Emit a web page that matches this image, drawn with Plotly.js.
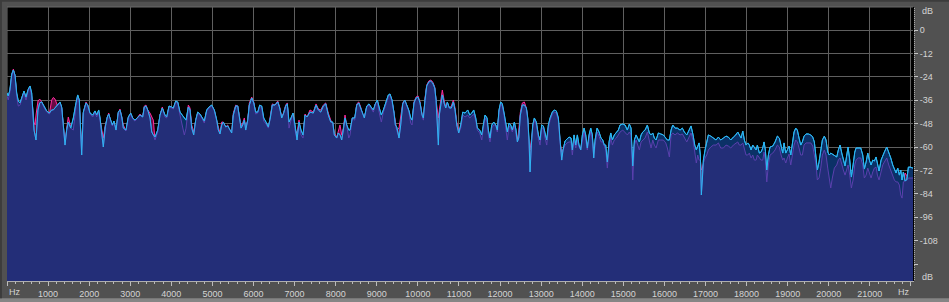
<!DOCTYPE html>
<html>
<head>
<meta charset="utf-8">
<script src="https://cdn.plot.ly/plotly-3.0.1.min.js"></script>
<style>
html,body{margin:0;padding:0;background:#515151;overflow:hidden;}
#chart{width:949px;height:302px;}
</style>
</head>
<body>
<div id="chart"></div>
<script>
// Frequency (Hz) of each sampled vertex of the spectrum
const freqHz = [0,30,70,115,155,195,236,275,316,358,414,462,518,560,601,657,682,706,754,796,845,884,966,1030,1088,1127,1168,1224,1290,1331,1370,1412,1453,1492,1550,1614,1679,1721,1760,1794,1818,1857,1923,1964,2020,2086,2142,2183,2232,2264,2305,2344,2393,2441,2475,2507,2563,2604,2653,2709,2750,2792,2831,2896,2952,3011,3059,3115,3171,3237,3303,3342,3383,3425,3481,3522,3561,3602,3668,3724,3780,3846,3887,3943,4009,4048,4106,4155,4211,4267,4316,4357,4413,4454,4496,4544,4593,4642,4698,4754,4802,4861,4917,4982,5046,5104,5143,5184,5226,5265,5323,5372,5428,5469,5508,5567,5615,5654,5696,5737,5776,5810,5859,5898,5956,6005,6053,6102,6151,6199,6248,6304,6360,6409,6457,6523,6589,6637,6686,6735,6783,6822,6864,6912,6961,7010,7059,7107,7156,7205,7253,7302,7375,7455,7521,7577,7635,7699,7757,7820,7879,7927,7966,8025,8064,8105,8146,8185,8227,8268,8317,8349,8405,8463,8512,8560,8609,8658,8697,8755,8811,8860,8916,8964,9013,9062,9110,9159,9225,9281,9322,9371,9420,9451,9485,9541,9582,9631,9680,9729,9777,9826,9858,9906,9955,10004,10052,10101,10133,10174,10215,10264,10313,10361,10410,10442,10473,10498,10522,10563,10595,10637,10678,10717,10766,10814,10863,10904,10946,10994,11043,11092,11148,11213,11262,11311,11359,11408,11447,11505,11554,11593,11635,11683,11715,11756,11797,11846,11895,11934,11975,12016,12055,12097,12138,12177,12219,12260,12299,12348,12389,12421,12455,12494,12542,12591,12640,12674,12705,12730,12761,12795,12834,12883,12932,12973,13014,13053,13095,13136,13175,13217,13272,13321,13370,13419,13460,13501,13533,13582,13630,13679,13728,13759,13801,13842,13881,13922,13964,14003,14044,14085,14124,14166,14207,14246,14280,14312,14361,14409,14458,14499,14538,14572,14611,14653,14694,14733,14781,14830,14879,14920,14986,15042,15098,15147,15188,15230,15269,15310,15351,15390,15432,15473,15529,15585,15633,15675,15716,15755,15797,15853,15911,15974,16033,16072,16121,16162,16203,16259,16315,16381,16437,16485,16544,16600,16648,16697,16738,16777,16811,16843,16875,16899,16923,16948,16989,17030,17069,17128,17191,17257,17313,17371,17435,17500,17556,17615,17678,17737,17785,17824,17866,17907,17946,17987,18028,18067,18109,18150,18189,18231,18262,18311,18352,18393,18425,18457,18491,18530,18571,18637,18693,18749,18797,18839,18880,18912,18953,18992,19034,19075,19114,19155,19196,19235,19277,19318,19357,19399,19447,19503,19562,19610,19649,19691,19722,19763,19805,19844,19892,19933,19975,20014,20048,20087,20136,20194,20233,20275,20316,20355,20396,20438,20470,20511,20550,20592,20633,20665,20720,20779,20827,20866,20908,20949,20988,21030,21071,21110,21151,21183,21224,21273,21314,21353,21411,21460,21509,21557,21596,21637,21679,21718,21752,21784,21815,21857,21898,21937,21979,22020,22050];

// Left channel level (dB) - cyan trace
const leftDb = [-32.3,-33.8,-30.8,-22.6,-20.5,-23.1,-32.3,-36.4,-37.4,-34.4,-31.3,-34.4,-30.3,-28.7,-32.3,-51.3,-54.9,-56.4,-41.0,-37.4,-36.9,-38.5,-41.5,-42.6,-41.0,-41.0,-40.0,-39.0,-36.9,-39.5,-49.7,-59.0,-51.3,-47.2,-50.3,-45.1,-37.4,-33.3,-35.9,-56.4,-64.1,-42.1,-37.4,-38.5,-42.6,-43.6,-41.5,-43.6,-41.0,-45.1,-52.3,-60.0,-49.7,-44.6,-43.1,-45.1,-48.7,-46.7,-51.3,-42.1,-41.0,-44.6,-50.3,-51.3,-44.6,-42.6,-45.1,-46.2,-45.1,-43.6,-44.6,-39.5,-39.0,-41.0,-45.1,-52.3,-53.8,-54.9,-51.3,-43.6,-40.0,-43.6,-44.6,-39.0,-39.5,-40.0,-36.4,-36.9,-42.1,-43.6,-45.1,-46.2,-39.5,-41.0,-50.3,-53.8,-46.2,-42.1,-43.1,-45.1,-46.7,-41.0,-39.5,-38.5,-41.0,-46.2,-51.3,-53.3,-48.7,-47.2,-49.7,-49.2,-51.3,-52.8,-43.6,-39.0,-39.0,-45.1,-50.3,-48.7,-46.2,-51.3,-46.2,-38.5,-34.9,-37.4,-42.1,-42.1,-38.5,-39.0,-45.1,-47.2,-49.7,-45.1,-38.5,-38.5,-36.9,-40.0,-45.1,-42.6,-39.0,-37.9,-47.2,-45.1,-42.6,-48.7,-56.4,-47.2,-51.3,-53.8,-43.6,-44.6,-42.1,-42.6,-38.5,-41.0,-42.1,-39.0,-37.9,-43.6,-47.2,-47.2,-53.8,-55.4,-52.8,-53.8,-56.4,-51.3,-45.1,-48.7,-51.3,-51.3,-45.1,-45.1,-38.5,-37.4,-40.0,-43.6,-45.1,-39.0,-37.9,-39.5,-41.0,-37.9,-35.9,-40.0,-43.6,-41.0,-36.9,-33.3,-32.8,-35.9,-42.6,-48.7,-49.7,-55.4,-48.7,-37.9,-35.9,-38.5,-41.0,-45.1,-46.2,-37.4,-34.9,-34.4,-37.4,-43.6,-45.1,-35.9,-28.7,-26.7,-26.2,-27.2,-29.7,-35.9,-46.2,-59.0,-43.6,-35.9,-33.3,-37.4,-40.0,-36.9,-40.0,-40.0,-36.9,-41.0,-48.7,-52.8,-48.7,-42.1,-42.6,-41.0,-43.6,-42.6,-41.0,-45.1,-50.3,-51.3,-53.8,-48.7,-43.6,-45.1,-51.3,-55.4,-48.7,-47.2,-48.7,-51.3,-41.0,-36.9,-37.9,-42.6,-48.7,-52.3,-47.7,-48.7,-51.3,-47.2,-51.3,-57.4,-55.4,-43.6,-38.5,-38.5,-40.0,-45.1,-56.4,-72.8,-59.0,-48.7,-45.1,-47.2,-53.8,-56.4,-48.7,-49.2,-52.8,-56.4,-48.7,-45.1,-42.1,-41.0,-41.5,-45.1,-56.4,-66.7,-61.5,-56.9,-55.9,-54.9,-55.4,-61.5,-53.8,-59.0,-53.8,-59.0,-61.5,-53.8,-50.3,-53.8,-60.5,-53.8,-50.3,-53.8,-65.6,-56.4,-50.3,-52.3,-55.4,-56.4,-59.0,-59.0,-67.7,-57.4,-52.8,-56.4,-53.8,-52.3,-51.3,-48.7,-48.2,-48.7,-51.3,-48.2,-50.3,-69.7,-56.4,-53.8,-55.4,-57.4,-53.8,-52.3,-51.3,-48.7,-52.8,-53.8,-52.8,-55.4,-56.4,-52.8,-53.3,-53.8,-55.4,-56.4,-56.4,-51.3,-48.7,-50.3,-50.3,-51.3,-50.3,-52.3,-53.8,-51.3,-49.2,-53.8,-59.0,-61.5,-59.0,-57.9,-64.1,-84.6,-76.9,-66.7,-61.5,-56.4,-53.8,-54.4,-55.4,-56.4,-54.9,-56.4,-55.4,-54.4,-54.9,-56.4,-54.9,-53.8,-52.3,-53.8,-55.4,-51.8,-56.4,-59.0,-57.9,-59.0,-61.5,-59.0,-60.5,-61.5,-59.0,-63.1,-62.6,-60.5,-57.4,-61.5,-71.8,-64.1,-60.0,-59.5,-57.4,-54.4,-55.4,-59.5,-63.1,-57.9,-63.1,-61.5,-59.5,-64.1,-59.0,-52.3,-50.3,-51.3,-55.4,-59.0,-57.4,-54.4,-53.3,-53.3,-53.8,-54.9,-57.4,-64.1,-71.8,-67.7,-61.5,-56.4,-54.4,-56.4,-62.6,-64.1,-63.1,-63.6,-64.1,-65.1,-61.5,-59.0,-63.1,-66.7,-69.7,-64.1,-60.0,-66.7,-75.4,-69.2,-62.6,-60.5,-60.5,-60.5,-64.1,-71.3,-67.7,-63.1,-66.7,-69.2,-66.7,-67.2,-65.1,-69.2,-72.3,-66.7,-64.1,-62.6,-60.0,-62.6,-65.6,-69.2,-70.8,-73.3,-70.8,-74.4,-71.8,-76.9,-72.8,-77.4,-76.9,-70.3,-70.3,-70.8,-70.8];

// Right channel level (dB) - magenta / purple trace
const rightDb = [-33.8,-35.9,-31.8,-23.6,-20.0,-23.6,-33.8,-39.0,-38.5,-35.4,-31.8,-35.9,-30.8,-29.7,-34.4,-47.2,-48.7,-43.6,-36.4,-35.4,-36.9,-39.0,-42.1,-43.1,-35.9,-34.6,-35.4,-38.5,-37.4,-40.0,-49.2,-57.9,-50.3,-44.6,-49.7,-51.3,-39.0,-34.4,-37.4,-53.8,-56.4,-42.6,-36.9,-38.5,-43.1,-44.6,-42.1,-44.6,-42.1,-46.2,-50.3,-55.4,-48.7,-44.1,-42.6,-45.6,-49.2,-47.2,-51.3,-42.6,-40.5,-44.6,-48.7,-51.8,-45.1,-43.1,-45.6,-46.7,-45.1,-43.1,-44.6,-39.0,-38.5,-41.0,-42.6,-44.6,-46.2,-56.4,-52.3,-43.6,-39.5,-44.6,-45.1,-39.5,-40.0,-40.5,-36.9,-37.4,-43.6,-48.7,-53.8,-50.3,-38.5,-40.0,-48.7,-52.3,-46.2,-42.6,-43.6,-45.6,-47.7,-41.5,-40.0,-39.0,-41.5,-46.7,-50.3,-52.8,-47.2,-47.2,-49.7,-48.7,-51.8,-52.3,-42.6,-38.5,-39.0,-45.1,-49.2,-47.7,-45.1,-50.3,-46.2,-37.4,-34.4,-36.9,-43.1,-42.6,-39.0,-40.0,-46.7,-48.2,-50.3,-44.1,-37.9,-38.5,-36.4,-39.5,-45.1,-42.1,-38.5,-37.4,-50.3,-46.2,-43.1,-51.3,-52.8,-46.2,-53.8,-55.4,-43.1,-44.6,-41.0,-42.1,-37.9,-40.5,-41.0,-38.5,-37.4,-42.6,-46.2,-47.7,-52.8,-54.9,-51.3,-48.7,-53.8,-50.3,-43.6,-48.7,-55.4,-53.8,-45.1,-46.2,-37.9,-36.9,-39.5,-43.6,-44.6,-39.5,-38.5,-40.0,-42.1,-37.9,-36.4,-42.6,-47.2,-42.1,-37.9,-34.4,-33.3,-36.9,-42.6,-47.2,-51.3,-50.3,-45.1,-37.4,-35.9,-39.0,-41.5,-47.7,-48.7,-36.9,-34.4,-33.8,-36.9,-43.1,-46.2,-34.9,-28.2,-26.2,-25.6,-26.7,-29.2,-35.9,-42.1,-45.1,-41.0,-33.8,-30.8,-35.9,-39.5,-37.4,-40.0,-39.0,-35.9,-40.0,-47.2,-51.3,-50.3,-43.6,-44.6,-43.6,-45.1,-44.1,-43.1,-46.2,-51.3,-52.8,-56.4,-50.3,-45.1,-47.2,-53.8,-57.4,-50.3,-48.7,-48.7,-52.3,-42.1,-37.9,-39.0,-43.6,-51.3,-56.4,-49.2,-50.3,-52.3,-48.7,-53.8,-56.4,-51.3,-42.1,-37.4,-36.9,-40.0,-46.2,-59.0,-61.5,-56.4,-50.3,-46.2,-48.7,-55.4,-59.0,-50.3,-50.3,-55.4,-59.0,-50.3,-46.2,-43.1,-42.1,-42.6,-46.2,-57.4,-62.6,-61.5,-59.0,-57.9,-57.4,-57.4,-64.1,-56.4,-60.5,-56.4,-60.0,-60.5,-56.4,-52.3,-56.4,-61.5,-55.4,-52.3,-56.4,-64.1,-59.0,-52.3,-54.4,-57.4,-57.4,-60.0,-61.5,-70.8,-60.5,-55.4,-59.0,-56.4,-55.4,-53.8,-52.3,-51.3,-52.8,-53.8,-52.3,-53.8,-76.9,-59.0,-56.4,-59.0,-61.5,-57.4,-56.4,-55.4,-52.3,-56.4,-60.5,-56.4,-59.0,-60.5,-56.4,-56.4,-56.4,-57.9,-60.5,-65.1,-53.8,-52.8,-53.8,-52.8,-53.8,-53.3,-55.4,-57.4,-54.9,-52.8,-56.4,-61.5,-68.2,-64.1,-66.7,-66.7,-71.8,-70.8,-68.2,-65.6,-64.1,-61.5,-60.0,-59.0,-59.0,-57.9,-60.5,-60.5,-59.0,-59.5,-60.5,-59.0,-57.9,-57.4,-59.0,-59.0,-57.9,-61.5,-64.1,-64.1,-63.1,-65.6,-64.1,-66.7,-66.7,-64.1,-65.6,-66.7,-66.7,-62.6,-66.7,-77.9,-69.2,-64.1,-63.1,-61.5,-59.0,-60.0,-64.1,-66.7,-65.6,-68.2,-65.6,-63.6,-69.2,-64.1,-59.0,-56.4,-57.4,-60.5,-64.1,-64.1,-59.0,-57.9,-57.9,-57.9,-59.5,-64.1,-69.2,-76.9,-75.9,-70.8,-64.1,-61.5,-64.1,-70.8,-75.9,-81.0,-75.9,-70.8,-69.2,-66.7,-65.6,-69.2,-71.8,-74.4,-70.8,-69.2,-74.4,-81.0,-76.9,-69.2,-66.7,-65.6,-65.6,-69.2,-75.9,-74.4,-70.8,-72.8,-75.9,-72.8,-70.8,-70.3,-74.4,-76.9,-72.8,-69.2,-67.7,-65.6,-69.2,-71.8,-74.4,-76.9,-77.9,-77.9,-79.5,-84.6,-86.2,-77.9,-73.3,-74.4,-75.9,-75.9,-75.9,-75.9];

// Axis ticks and labels
const freqTicks = [0,1000,2000,3000,4000,5000,6000,7000,8000,9000,10000,11000,12000,13000,14000,15000,16000,17000,18000,19000,20000,21000,22000];
const freqTickLabels = ['','1000','2000','3000','4000','5000','6000','7000','8000','9000','10000','11000','12000','13000','14000','15000','16000','17000','18000','19000','20000','21000',''];
const dbTicks = [12,0,-12,-24,-36,-48,-60,-72,-84,-96,-108,-120];
const dbTickLabels = ['','0','-12','-24','-36','-48','-60','-72','-84','-96','-108',''];
const unitX = 'Hz';
const unitY = 'dB';

const minDb = leftDb.map((v, i) => Math.min(v, rightDb[i]));
const floorX = [freqHz[0], freqHz[freqHz.length - 1]];
const floorY = [-140, -140];

const base = () => ({x: floorX, y: floorY, mode: 'lines', line: {width: 0, color: 'rgba(0,0,0,0)'}, hoverinfo: 'skip', showlegend: false});

const traces = [
  base(),
  {x: freqHz, y: rightDb, mode: 'lines', fill: 'tonexty', fillcolor: '#6a0b45', line: {color: '#ff2c9c', width: 1}, showlegend: false},
  base(),
  {x: freqHz, y: leftDb, mode: 'lines', fill: 'tonexty', fillcolor: '#0b3167', line: {color: '#2cb6f3', width: 1}, showlegend: false},
  base(),
  {x: freqHz, y: minDb, mode: 'lines', fill: 'tonexty', fillcolor: '#232e78', line: {color: '#5b40ae', width: 1}, showlegend: false},
  {x: freqHz, y: leftDb, mode: 'lines', line: {color: '#2cb6f3', width: 1}, showlegend: false}
];

const tickFont = {family: 'Liberation Sans, Arial, sans-serif', size: 9, color: '#d4d4d4'};

const layout = {
  width: 949, height: 302,
  margin: {l: 7, r: 36, t: 7, b: 21, pad: 0},
  paper_bgcolor: '#515151',
  plot_bgcolor: '#000000',
  showlegend: false,
  hovermode: false,
  xaxis: {
    range: [0, 22050], fixedrange: true,
    tickmode: 'array', tickvals: freqTicks, ticktext: freqTickLabels,
    showgrid: true, gridcolor: '#5f5f5f', gridwidth: 1,
    ticks: 'outside', ticklen: 4, tickcolor: '#bcbcbc', tickwidth: 1,
    minor: {tickmode: 'linear', tick0: 0, dtick: 200, ticks: 'outside', ticklen: 2, tickcolor: '#bcbcbc', showgrid: false},
    showline: true, linecolor: '#aeaeae', linewidth: 1,
    zeroline: false, tickfont: tickFont
  },
  yaxis: {
    side: 'right', range: [-128.7, 11.8], fixedrange: true,
    tickmode: 'array', tickvals: dbTicks, ticktext: dbTickLabels,
    showgrid: true, gridcolor: '#5f5f5f', gridwidth: 1,
    ticks: 'outside', ticklen: 4, tickcolor: '#c4c4c4', tickwidth: 1,
    minor: {tickmode: 'linear', tick0: 0, dtick: 1, ticks: 'outside', ticklen: 1, tickcolor: '#a8a8a8', showgrid: false},
    showline: true, linecolor: '#000000', linewidth: 1,
    zeroline: false, tickfont: tickFont
  },
  shapes: [
    {type: 'line', xref: 'x', yref: 'paper', x0: 0, x1: 0, y0: 0, y1: 1, line: {color: '#6a6a6a', width: 1}, layer: 'below'},
    {type: 'line', xref: 'paper', yref: 'paper', x0: 0, x1: 1, y0: 1, y1: 1, line: {color: '#6a6a6a', width: 1}, layer: 'below'},
    {type: 'rect', xref: 'paper', yref: 'paper', x0: -0.0078, x1: 1.04, y0: -0.0766, y1: -0.063, fillcolor: '#858585', line: {width: 0}},
    {type: 'rect', xref: 'paper', yref: 'paper', x0: -0.0078, x1: -0.0056, y0: -0.063, y1: 1.0255, fillcolor: '#3c3c3c', line: {width: 0}},
    {type: 'rect', xref: 'paper', yref: 'paper', x0: -0.0078, x1: 1.04, y0: 1.019, y1: 1.0255, fillcolor: '#3c3c3c', line: {width: 0}}
  ],
  annotations: [
    {xref: 'paper', yref: 'paper', x: 0.0085, y: -0.04, xanchor: 'center', yanchor: 'middle', text: unitX, showarrow: false, font: tickFont},
    {xref: 'paper', yref: 'paper', x: 0.9906, y: -0.04, xanchor: 'center', yanchor: 'middle', text: unitX, showarrow: false, font: tickFont},
    {xref: 'paper', yref: 'paper', x: 1, xshift: 7, y: 0.9836, xanchor: 'left', yanchor: 'middle', text: unitY, showarrow: false, font: tickFont},
    {xref: 'paper', yref: 'paper', x: 1, xshift: 7, y: 0.0164, xanchor: 'left', yanchor: 'middle', text: unitY, showarrow: false, font: tickFont}
  ]
};

Plotly.newPlot('chart', traces, layout, {staticPlot: true, displayModeBar: false});
</script>
</body>
</html>
